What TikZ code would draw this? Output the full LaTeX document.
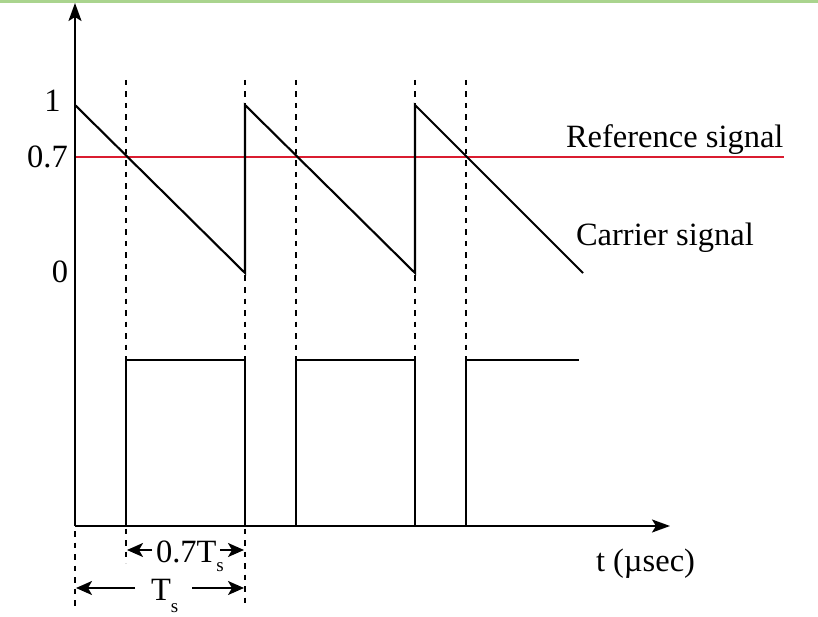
\documentclass[tikz,border=0pt]{standalone}
\usepackage{fontspec}
\setmainfont{Liberation Serif}
\usetikzlibrary{arrows.meta}
\definecolor{topgreen}{RGB}{170,212,142}
\definecolor{refred}{RGB}{218,28,48}
\begin{document}
\begin{tikzpicture}[x=1pt,y=-1pt,
  lbl/.style={inner sep=0pt,outer sep=0pt,font=\fontsize{32.5}{36}\selectfont},
  axisline/.style={line width=2.2pt,-{Stealth[length=18pt,width=13pt,inset=4pt]}},
  sig/.style={line width=2.1pt,line join=miter},
  guide/.style={line width=2pt,dash pattern=on 5.5pt off 6pt},
  dimarrow/.style={line width=2pt,-{Stealth[length=16pt,width=14pt,inset=4pt]}}]
\useasboundingbox (0,0) rectangle (818,617);
\fill[topgreen] (0,0) rectangle (818,3.3);
% coordinates
\coordinate (O) at (75,526);
\coordinate (ytip) at (75,3);
\coordinate (xtip) at (670,526);
% guide lines
\draw[guide] (75,531) -- (75,608);
\draw[guide] (126,80) -- (126,563);
\draw[guide] (245,80) -- (245,608);
\draw[guide] (296,80) -- (296,360);
\draw[guide] (415,80) -- (415,360);
\draw[guide] (466,80) -- (466,360);
% reference signal
\draw[refred,line width=2.4pt] (75,157) -- (784,157);
% carrier
\draw[sig] (75,105) -- (245,273) -- (245,105) -- (415,273) -- (415,105) -- (583,273);
% pulses
\draw[sig] (126,526) -- (126,360) -- (245,360) -- (245,526);
\draw[sig] (296,526) -- (296,360) -- (415,360) -- (415,526);
\draw[sig] (466,526) -- (466,360) -- (579,360);
% axes
\draw[axisline] (O) -- (ytip);
\draw[axisline] (O) -- (xtip);
% labels
\node[lbl,anchor=base] (l1) at (52.5,112) {1};
\node[lbl,anchor=base] (l07) at (47.5,168) {0.7};
\node[lbl,anchor=base] (l0) at (60,283) {0};
\node[lbl,anchor=base west] (ref) at (566,148) {Reference signal};
\node[lbl,anchor=base west] (car) at (576,246) {Carrier signal};
\node[lbl,anchor=base west] (tlab) at (596,571) {t (µsec)};
\node[lbl,anchor=base west] (d07) at (156,562) {0.7T\raisebox{-9pt}{\fontsize{19}{19}\selectfont s}};
\node[lbl,anchor=base west] (dT) at (151,600) {T\raisebox{-12pt}{\fontsize{19}{19}\selectfont s}};
% dimension arrows
\coordinate (a1s) at (152,550); \coordinate (a1e) at (127,550);
\coordinate (a2s) at (220,550); \coordinate (a2e) at (244,550);
\coordinate (b1s) at (135,588); \coordinate (b1e) at (76,588);
\coordinate (b2s) at (192,588); \coordinate (b2e) at (244,588);
\draw[dimarrow] (a1s) -- (a1e);
\draw[dimarrow] (a2s) -- (a2e);
\draw[dimarrow] (b1s) -- (b1e);
\draw[dimarrow] (b2s) -- (b2e);
\end{tikzpicture}
\end{document}
